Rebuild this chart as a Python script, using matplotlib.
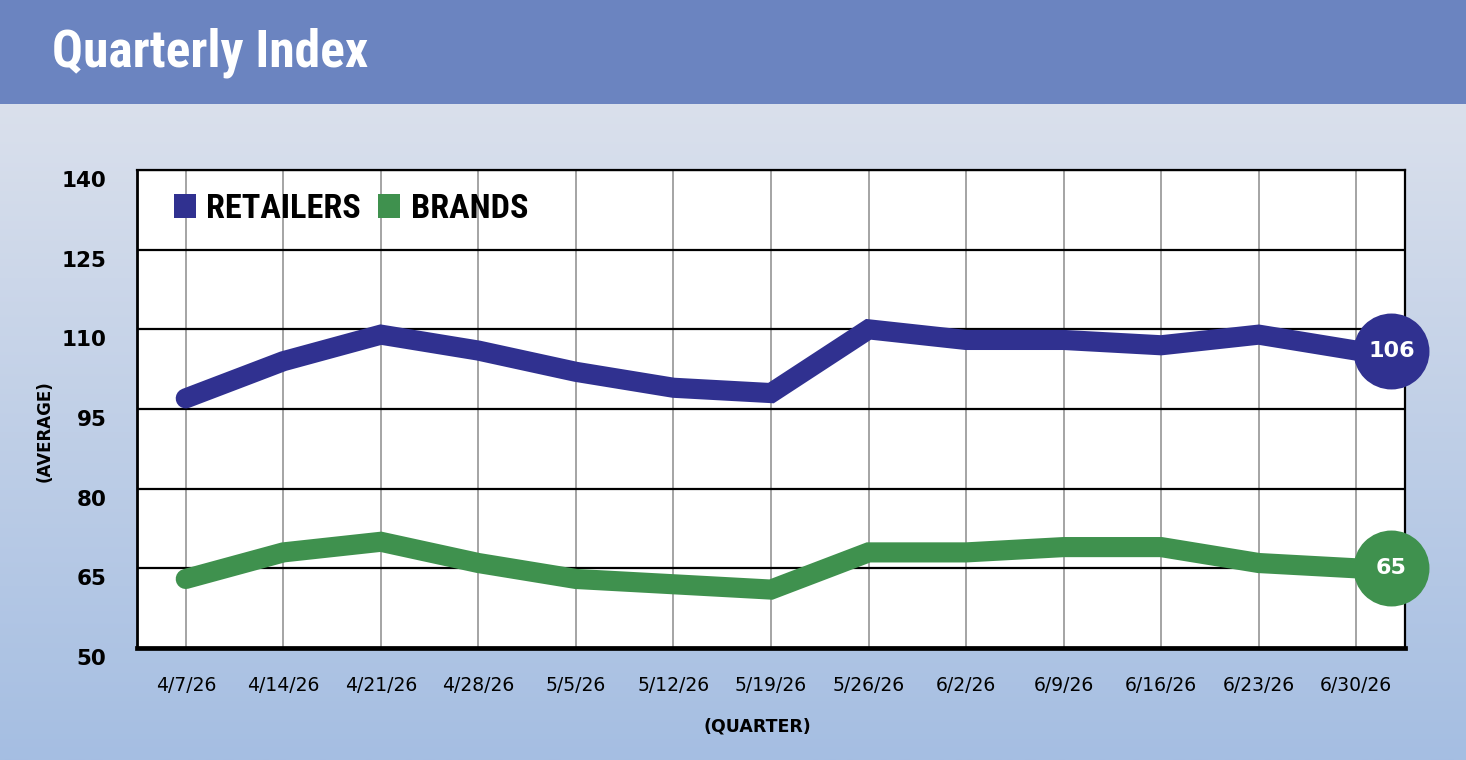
import os
import numpy as np
import matplotlib
matplotlib.use("Agg")
import matplotlib.pyplot as plt
from matplotlib.patches import Patch, Rectangle
from matplotlib import transforms, font_manager

# ---- data ----
dates = ["4/7/26", "4/14/26", "4/21/26", "4/28/26", "5/5/26", "5/12/26", "5/19/26",
         "5/26/26", "6/2/26", "6/9/26", "6/16/26", "6/23/26", "6/30/26"]
retailers = [97, 104, 109, 106, 102, 99, 98, 110, 108, 108, 107, 109, 106]
brands = [63, 68, 70, 66, 63, 62, 61, 68, 68, 69, 69, 66, 65]
yticks = [50, 65, 80, 95, 110, 125, 140]
title = "Quarterly Index"
series_names = ["RETAILERS", "BRANDS"]

c_ret = "#303190"
c_brd = "#3f914e"
band = "#6b84c0"


def condensed_bold():
    files = [f.fname for f in font_manager.fontManager.ttflist]
    prefs = [("robotocondensed", "bold"), ("condensed", "bold"), ("narrow", "bold"),
             ("condensed", "")]
    for key, w in prefs:
        for fn in files:
            b = os.path.basename(fn).lower().replace("_", "").replace("-", "")
            if key in b and w in b and "italic" not in b and "oblique" not in b \
                    and "extrabold" not in b and "semibold" not in b:
                return font_manager.FontProperties(fname=fn)
    return font_manager.FontProperties(family="DejaVu Sans", weight="bold")


cfp = condensed_bold()

W, H = 1466, 760
fig = plt.figure(figsize=(W / 100, H / 100), dpi=100)
renderer = fig.canvas.get_renderer()


def fit_text(txt, target_px, maxsize):
    fp = cfp.copy()
    fp.set_size(maxsize)
    t = fig.text(0, 0, txt, fontproperties=fp)
    w = t.get_window_extent(renderer).width
    t.remove()
    return min(maxsize, maxsize * target_px / w)


# background gradient
bg = fig.add_axes([0, 0, 1, 1 - 104 / H])
bg.set_axis_off()
top = np.array([218, 224, 236]) / 255
bot = np.array([165, 190, 226]) / 255
t = np.linspace(0, 1, 256)[:, None]
grad = (top[None, :] * (1 - t) + bot[None, :] * t)[:, None, :]
bg.imshow(grad, aspect="auto", extent=[0, 1, 0, 1])

# title band
fig.patches.append(Rectangle((0, 1 - 104 / H), 1, 104 / H, transform=fig.transFigure,
                             facecolor=band, edgecolor="none", zorder=1))
tfp = cfp.copy()
tfp.set_size(fit_text(title, 316, 40))
fig.text(52 / W, 1 - 67 / H, title, color="white", fontproperties=tfp,
         va="baseline", ha="left", zorder=3)

ax = fig.add_axes([137 / W, 1 - 648 / H, (1405 - 137) / W, (648 - 170) / H])
ax.set_facecolor("white")
x = np.arange(len(dates))
ax.set_xlim(-0.5, len(dates) - 0.5)
ax.set_ylim(50, 140)
ax.set_axisbelow(True)

ax.set_xticks(x)
ax.set_xticklabels(dates, fontsize=13.5)
ax.set_yticks(yticks)
ax.set_yticklabels([str(v) for v in yticks], fontsize=15.5, fontweight="bold")
ax.tick_params(axis="both", length=0)
ax.tick_params(axis="y", pad=22)
ax.tick_params(axis="x", pad=20)
off = transforms.ScaledTranslation(0, -9 / 100, fig.dpi_scale_trans)
for lab in ax.get_yticklabels():
    lab.set_transform(lab.get_transform() + off)

ax.grid(axis="x", color="#8c8c8c", linewidth=1.1)
ax.grid(axis="y", color="black", linewidth=1.6)

for s in ["top", "right"]:
    ax.spines[s].set_linewidth(1.6)
ax.spines["left"].set_linewidth(2.0)
ax.spines["bottom"].set_linewidth(3.4)

lw = 14.5
ax.plot(x, retailers, color=c_ret, linewidth=lw, solid_capstyle="round",
        solid_joinstyle="miter", zorder=3)
ax.plot(x, brands, color=c_brd, linewidth=lw, solid_capstyle="round",
        solid_joinstyle="miter", zorder=3)

# end labels
for vals, col in [(retailers, c_ret), (brands, c_brd)]:
    xe = x[-1] + 0.36
    ax.scatter([xe], [vals[-1]], s=2990, color=col, zorder=6, clip_on=False, linewidths=0)
    ax.text(xe, vals[-1], str(vals[-1]), color="white", fontsize=16, fontweight="bold",
            ha="center", va="center", zorder=7, clip_on=False)

lfp = cfp.copy()
lfp.set_size(fit_text(series_names[0], 155, 28))
handles = [Patch(facecolor=c_ret, edgecolor="none", label=series_names[0]),
           Patch(facecolor=c_brd, edgecolor="none", label=series_names[1])]
leg = ax.legend(handles=handles, loc="upper left", bbox_to_anchor=(0.029, 0.952), ncol=2,
                frameon=False, prop=lfp,
                handlelength=0.65, handleheight=0.7, handletextpad=0.3,
                columnspacing=0.5, borderaxespad=0, borderpad=0)

fig.text(45 / W, 1 - 431 / H, "(AVERAGE)", rotation=90, fontsize=12, fontweight="bold",
         ha="center", va="center")
fig.text(757 / W, 1 - 727 / H, "(QUARTER)", fontsize=12.5, fontweight="bold",
         ha="center", va="center")

fig.savefig("out.png", dpi=100)
